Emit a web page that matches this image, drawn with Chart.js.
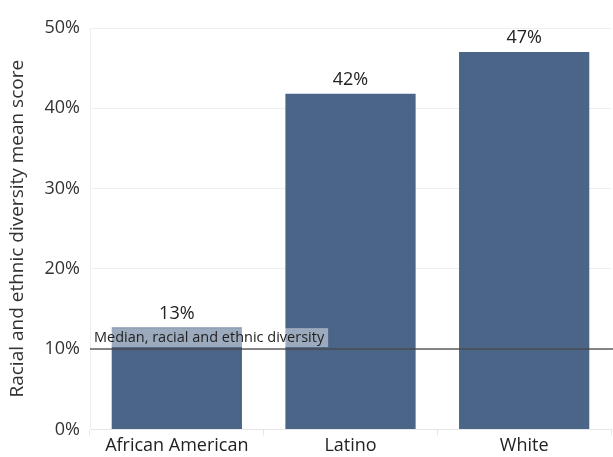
<!DOCTYPE html>
<html lang="en">
  <head>
    <meta charset="utf-8">
    <script src="https://cdn.jsdelivr.net/npm/chart.js@4"></script>
    <title>Racial and ethnic diversity mean score</title>
    <style>
      html, body { margin: 0; padding: 0; background: #fff; }
      #wrap { width: 613px; height: 457px; position: relative; }
    </style>
  </head>
  <body>
    <div id="wrap"><canvas id="chart"></canvas></div>
  </body>
  <script>
    const groups = ['African American', 'Latino', 'White'];
    const meanScores = [12.7, 41.8, 47];
    const scoreLabels = ['13%', '42%', '47%'];
    const medianScore = 10;
    const medianLabel = 'Median, racial and ethnic diversity';
    const fontFamily = '"Open Sans", Lato, sans-serif';

    // values above each bar
    const barLabels = {
      id: 'barLabels',
      afterDatasetsDraw(chart) {
        const ctx = chart.ctx;
        const meta = chart.getDatasetMeta(0);
        ctx.save();
        ctx.font = '18px ' + fontFamily;
        ctx.fillStyle = '#222';
        ctx.textAlign = 'center';
        ctx.textBaseline = 'bottom';
        meta.data.forEach((bar, i) => {
          ctx.fillText(scoreLabels[i], bar.x, bar.y - 5);
        });
        ctx.restore();
      }
    };

    // median reference line with its label
    const medianLine = {
      id: 'medianLine',
      afterDatasetsDraw(chart) {
        const ctx = chart.ctx;
        const area = chart.chartArea;
        const y = chart.scales.y.getPixelForValue(medianScore);
        ctx.save();
        ctx.strokeStyle = 'rgba(70,70,70,0.65)';
        ctx.lineWidth = 2;
        ctx.beginPath();
        ctx.moveTo(area.left, y);
        ctx.lineTo(chart.width, y);
        ctx.stroke();
        ctx.font = '14.5px ' + fontFamily;
        const w = ctx.measureText(medianLabel).width;
        ctx.fillStyle = 'rgba(255,255,255,0.45)';
        ctx.fillRect(area.left + 2, y - 21, w + 6, 19);
        ctx.fillStyle = '#222';
        ctx.textBaseline = 'middle';
        ctx.fillText(medianLabel, area.left + 4, y - 11);
        ctx.restore();
      }
    };

    new Chart(document.getElementById('chart'), {
      type: 'bar',
      data: {
        labels: groups,
        datasets: [{
          data: meanScores,
          backgroundColor: '#4a6587',
          barPercentage: 0.75,
          categoryPercentage: 1
        }]
      },
      options: {
        responsive: true,
        maintainAspectRatio: false,
        animation: false,
        layout: { padding: { top: 28, right: 2 } },
        plugins: {
          legend: { display: false },
          tooltip: { enabled: false }
        },
        scales: {
          x: {
            grid: { drawOnChartArea: false, color: '#e6e6e6', tickLength: 6, offset: true },
            border: { color: '#e6e6e6' },
            ticks: { color: '#222', font: { family: fontFamily, size: 18 }, padding: 0 }
          },
          y: {
            min: 0,
            max: 50,
            afterFit(scale) { scale.width = 90; },
            ticks: {
              stepSize: 10,
              color: '#333',
              font: { family: fontFamily, size: 18 },
              padding: 10,
              callback: v => v + '%'
            },
            grid: { color: '#eeeeee', drawTicks: false },
            border: { color: '#eeeeee' },
            title: {
              display: true,
              text: 'Racial and ethnic diversity mean score',
              color: '#333',
              font: { family: fontFamily, size: 19 },
              padding: { top: 6, bottom: 6 }
            }
          }
        }
      },
      plugins: [barLabels, medianLine]
    });
  </script>
</html>
